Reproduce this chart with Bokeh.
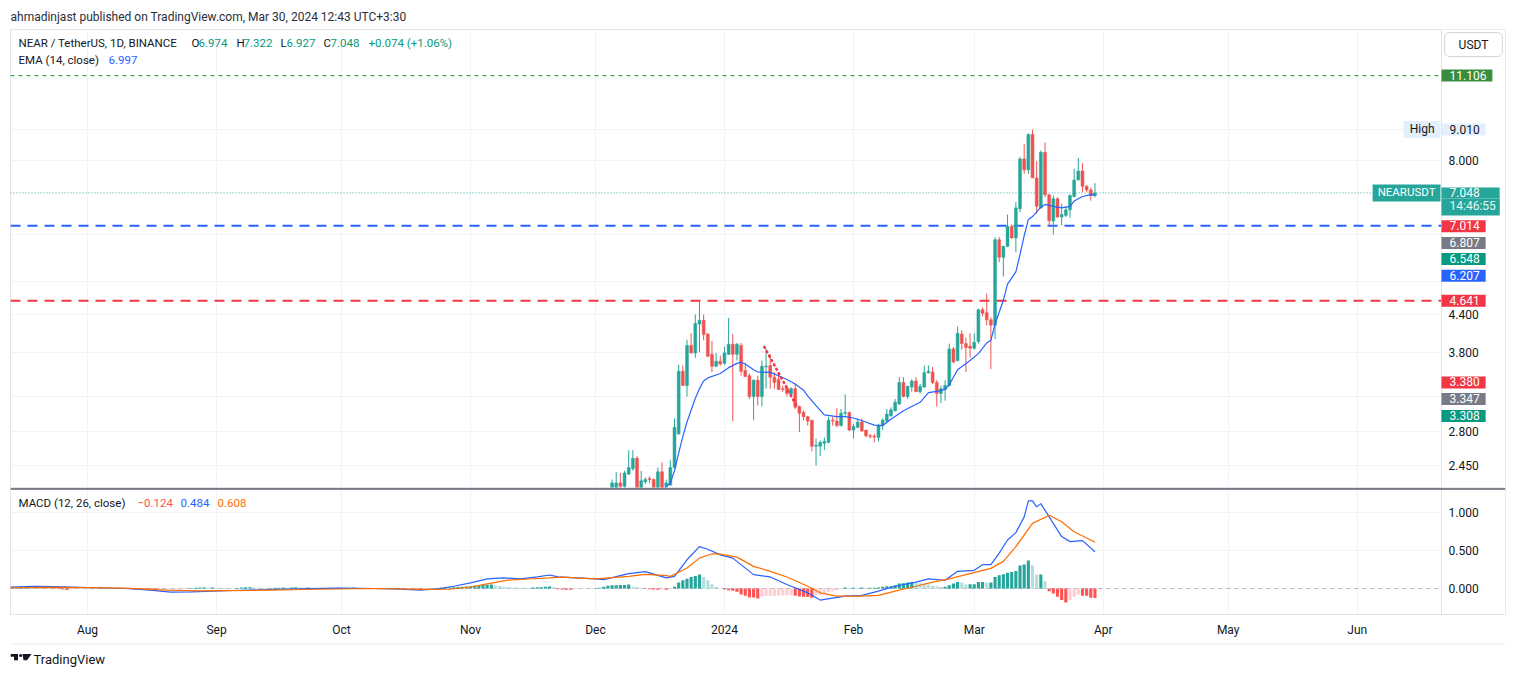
import pandas as pd
from bokeh.plotting import figure
from bokeh.models import (Range1d, FixedTicker, PrintfTickFormatter, Span, Label, Grid, BoxAnnotation,
                          CustomJSTickFormatter, ColumnDataSource)
from bokeh.core.properties import value
from bokeh.layouts import column
from bokeh.embed import file_html
from bokeh.resources import INLINE

# ---------------- data ----------------
header_text = "ahmadinjast published on TradingView.com, Mar 30, 2024 12:43 UTC+3:30"

candle_first_day = "2023-12-05"
# Dec 5..31 | Jan | Feb | Mar 1..30
candle_open = [2.22, 2.24, 2.29, 2.26, 2.37, 2.42, 2.52, 2.20, 2.30, 2.33, 2.32, 2.22, 2.39, 2.26, 2.27, 2.43, 2.77, 3.53, 3.34, 3.90, 3.79, 4.24, 4.30, 4.08, 3.77, 3.60, 3.67,
               3.64, 3.77, 3.92, 3.77, 3.90, 3.54, 3.47, 3.20, 3.41, 3.20, 3.59, 3.61, 3.45, 3.42, 3.30, 3.31, 3.23, 3.30, 3.08, 3.01, 2.96, 2.92, 2.64, 2.64, 2.67, 2.68, 2.92, 2.91, 2.86, 3.00, 3.01,
               2.81, 2.84, 2.90, 2.81, 2.75, 2.745, 2.73, 2.86, 2.91, 2.97, 3.03, 3.11, 3.38, 3.20, 3.32, 3.40, 3.26, 3.32, 3.51, 3.52, 3.38, 3.24, 3.29, 3.34, 3.85, 3.68, 4.08, 3.93, 3.89,
               3.86, 3.96, 4.48, 4.43, 4.31, 4.22, 5.88, 5.49, 5.73, 6.19, 5.92, 6.63, 8.04, 7.71, 8.84, 7.47, 6.65, 8.25, 7.00, 6.32, 6.89, 6.42, 6.46, 6.60, 6.95, 7.41, 7.67, 7.23, 7.13, 6.974]
candle_high = [2.32, 2.39, 2.38, 2.40, 2.60, 2.60, 2.54, 2.40, 2.34, 2.35, 2.33, 2.43, 2.48, 2.32, 2.50, 2.94, 3.62, 3.61, 3.99, 4.09, 4.40, 4.62, 4.40, 4.09, 3.97, 3.79, 3.75,
               3.88, 4.34, 4.08, 3.94, 3.94, 3.65, 3.50, 3.42, 3.47, 3.68, 3.85, 3.77, 3.52, 3.52, 3.34, 3.35, 3.32, 3.36, 3.09, 3.03, 2.97, 2.92, 2.72, 2.70, 2.73, 2.96, 2.96, 3.06, 3.05, 3.23, 3.02,
               2.88, 2.94, 2.94, 2.81, 2.77, 2.77, 2.88, 2.94, 3.05, 3.07, 3.17, 3.45, 3.45, 3.34, 3.42, 3.45, 3.36, 3.61, 3.61, 3.59, 3.41, 3.34, 3.41, 3.93, 3.88, 4.20, 4.14, 4.02, 4.09,
               4.09, 4.50, 4.52, 4.77, 4.35, 5.94, 5.94, 5.74, 6.48, 6.24, 6.80, 8.10, 8.52, 8.88, 9.01, 7.97, 8.31, 8.57, 7.02, 6.98, 6.93, 6.76, 6.69, 7.00, 7.74, 8.07, 7.91, 7.27, 7.19, 7.322]
candle_low = [2.18, 2.18, 2.20, 2.22, 2.36, 2.40, 2.15, 2.15, 2.28, 2.29, 2.18, 2.18, 2.19, 2.24, 2.27, 2.42, 2.76, 3.34, 3.20, 3.78, 3.72, 3.80, 3.98, 3.73, 3.52, 3.59, 3.61,
              3.62, 3.76, 2.91, 3.68, 3.47, 3.45, 3.17, 2.92, 3.09, 3.08, 3.30, 3.30, 3.30, 3.28, 3.26, 3.20, 3.21, 3.05, 2.79, 2.92, 2.86, 2.59, 2.45, 2.54, 2.60, 2.67, 2.86, 2.84, 2.85, 2.97, 2.80,
              2.72, 2.83, 2.79, 2.73, 2.72, 2.68, 2.69, 2.81, 2.90, 2.96, 3.02, 3.10, 3.19, 3.17, 3.26, 3.26, 3.24, 3.31, 3.50, 3.36, 3.08, 3.12, 3.15, 3.33, 3.64, 3.67, 3.84, 3.52, 3.72,
              3.84, 3.93, 4.37, 4.22, 3.56, 4.00, 5.39, 5.10, 5.71, 5.90, 5.60, 6.54, 7.59, 7.59, 7.47, 6.50, 6.63, 6.93, 6.19, 6.00, 6.40, 6.21, 6.42, 6.40, 6.93, 7.40, 7.07, 7.07, 6.84, 6.927]
candle_close = [2.29, 2.29, 2.26, 2.38, 2.43, 2.52, 2.20, 2.31, 2.32, 2.32, 2.22, 2.39, 2.22, 2.29, 2.43, 2.84, 3.53, 3.34, 3.90, 3.79, 4.25, 4.30, 4.07, 3.74, 3.60, 3.67, 3.63,
                3.79, 3.92, 3.77, 3.92, 3.53, 3.46, 3.20, 3.41, 3.20, 3.60, 3.60, 3.45, 3.38, 3.29, 3.29, 3.24, 3.30, 3.07, 3.00, 2.96, 2.91, 2.64, 2.65, 2.68, 2.69, 2.92, 2.91, 2.86, 3.00, 3.01, 2.81,
                2.85, 2.90, 2.80, 2.75, 2.74, 2.735, 2.86, 2.92, 2.99, 3.04, 3.13, 3.38, 3.20, 3.33, 3.40, 3.26, 3.33, 3.51, 3.53, 3.38, 3.24, 3.30, 3.34, 3.85, 3.66, 4.09, 3.93, 3.87, 3.86,
                3.95, 4.48, 4.42, 4.31, 4.22, 5.88, 5.49, 5.73, 6.19, 5.92, 6.65, 8.04, 7.71, 8.84, 7.47, 6.69, 8.25, 7.00, 6.33, 6.89, 6.42, 6.48, 6.60, 6.98, 7.41, 7.67, 7.23, 7.13, 6.974, 7.048]

ema_dates = ["2023-12-17", "2023-12-19", "2023-12-20", "2023-12-21", "2023-12-22", "2023-12-23", "2023-12-25", "2023-12-26", "2023-12-27", "2023-12-28",
             "2023-12-31", "2024-01-02", "2024-01-04", "2024-01-05", "2024-01-06", "2024-01-08", "2024-01-09", "2024-01-12", "2024-01-14", "2024-01-16",
             "2024-01-18", "2024-01-20", "2024-01-21", "2024-01-23", "2024-01-25", "2024-01-28", "2024-01-30", "2024-02-01", "2024-02-04", "2024-02-06",
             "2024-02-08", "2024-02-10", "2024-02-13", "2024-02-17", "2024-02-19", "2024-02-21", "2024-02-23", "2024-02-24", "2024-02-26", "2024-02-29",
             "2024-03-02", "2024-03-04", "2024-03-05", "2024-03-06", "2024-03-08", "2024-03-09", "2024-03-11", "2024-03-12", "2024-03-13", "2024-03-14",
             "2024-03-15", "2024-03-17", "2024-03-18", "2024-03-20", "2024-03-22", "2024-03-24", "2024-03-25", "2024-03-27", "2024-03-29", "2024-03-30"]
ema_values = [2.22, 2.29, 2.40, 2.57, 2.74, 2.90, 3.18, 3.30, 3.40, 3.44,
              3.50, 3.58, 3.64, 3.655, 3.63, 3.55, 3.52, 3.515, 3.47, 3.42,
              3.36, 3.28, 3.21, 3.09, 2.98, 2.96, 2.96, 2.945, 2.90, 2.865,
              2.86, 2.93, 3.03, 3.13, 3.25, 3.265, 3.29, 3.35, 3.55, 3.68,
              3.78, 3.94, 3.98, 4.24, 4.65, 4.95, 5.19, 5.55, 5.97, 6.36,
              6.43, 6.67, 6.74, 6.69, 6.65, 6.69, 6.83, 6.95, 7.00, 6.997]

proj_dates = ["2024-01-10 14:00", "2024-01-18 07:00"]
proj_values = [3.88, 3.09]

macd_dates = ["2023-07-13", "2023-07-19", "2023-07-24", "2023-08-01", "2023-08-10", "2023-08-16", "2023-08-21", "2023-08-26", "2023-09-05", "2023-09-18",
              "2023-09-30", "2023-10-09", "2023-10-15", "2023-10-20", "2023-10-24", "2023-10-28", "2023-11-01", "2023-11-05", "2023-11-09", "2023-11-13",
              "2023-11-17", "2023-11-20", "2023-11-22", "2023-12-01", "2023-12-03", "2023-12-09", "2023-12-13", "2023-12-18", "2023-12-20", "2023-12-23",
              "2023-12-26", "2023-12-28", "2023-12-31", "2024-01-03", "2024-01-08", "2024-01-12", "2024-01-16", "2024-01-21", "2024-01-24", "2024-01-30",
              "2024-02-03", "2024-02-07", "2024-02-11", "2024-02-16", "2024-02-19", "2024-02-23", "2024-02-26", "2024-03-01", "2024-03-03", "2024-03-05",
              "2024-03-07", "2024-03-09", "2024-03-11", "2024-03-13", "2024-03-14", "2024-03-15", "2024-03-16", "2024-03-17", "2024-03-19", "2024-03-22",
              "2024-03-24", "2024-03-27", "2024-03-30"]
macd_values = [0.017, 0.030, 0.026, 0.013, 0.0, -0.020, -0.048, -0.043, -0.026, -0.009,
               0.004, 0.0, -0.009, -0.020, -0.005, 0.030, 0.074, 0.126, 0.139, 0.126,
               0.152, 0.178, 0.152, 0.126, 0.117, 0.196, 0.222, 0.139, 0.16, 0.378,
               0.552, 0.517, 0.443, 0.40, 0.183, 0.152, 0.052, -0.057, -0.152, -0.10,
               -0.091, -0.035, 0.03, 0.083, 0.126, 0.109, 0.226, 0.239, 0.313, 0.313,
               0.465, 0.639, 0.735, 0.943, 1.152, 1.152, 1.074, 1.117, 0.943, 0.683,
               0.617, 0.630, 0.484]

signal_dates = ["2023-07-13", "2023-07-22", "2023-08-01", "2023-08-10", "2023-08-20", "2023-08-28", "2023-09-10", "2023-09-25", "2023-10-09", "2023-10-20",
                "2023-10-27", "2023-11-01", "2023-11-05", "2023-11-10", "2023-11-15", "2023-11-20", "2023-11-23", "2023-12-01", "2023-12-09", "2023-12-13",
                "2023-12-18", "2023-12-19", "2023-12-23", "2023-12-26", "2023-12-29", "2023-12-31", "2024-01-04", "2024-01-08", "2024-01-12", "2024-01-16",
                "2024-01-21", "2024-01-24", "2024-01-28", "2024-02-03", "2024-02-07", "2024-02-11", "2024-02-16", "2024-02-20", "2024-02-24", "2024-02-28",
                "2024-03-05", "2024-03-08", "2024-03-11", "2024-03-15", "2024-03-19", "2024-03-22", "2024-03-25", "2024-03-30"]
signal_values = [0.010, 0.015, 0.012, 0.005, -0.020, -0.030, -0.025, -0.010, 0.0, -0.012,
                 -0.010, 0.020, 0.060, 0.110, 0.125, 0.140, 0.150, 0.126, 0.160, 0.187,
                 0.170, 0.160, 0.270, 0.400, 0.457, 0.452, 0.413, 0.291, 0.226, 0.152,
                 0.030, -0.057, -0.100, -0.100, -0.091, -0.035, 0.030, 0.083, 0.126, 0.183,
                 0.265, 0.357, 0.552, 0.857, 0.965, 0.878, 0.748, 0.608]

hist_first_day = "2023-07-14"
hist_jul = [0.008, 0.010, 0.012, 0.012, 0.010, 0.008, 0.006, 0.005, 0.004, 0.003, -0.004, -0.008, -0.014, -0.020, -0.012, -0.006, -0.003, -0.002]
hist_aug = [0.002, 0.003, 0.002, 0.001, 0.002, 0.001, 0.002, 0.001, -0.001, -0.002, -0.003, -0.002, -0.004, -0.006, -0.008, -0.010,
            -0.012, -0.011, -0.010, -0.009, -0.008, -0.006, -0.005, -0.003, -0.001, 0.006, 0.010, 0.013, 0.013, 0.012, 0.014]
hist_sep = [0.011, 0.009, 0.007, 0.005, 0.004, 0.008, 0.012, 0.015, 0.016, 0.014, 0.010, 0.006, 0.004, 0.006, 0.009,
            0.011, 0.013, 0.012, 0.014, 0.015, 0.013, 0.012, 0.014, 0.013, 0.009, 0.006, 0.004, 0.003, 0.006, 0.009]
hist_oct = [0.010, 0.011, 0.010, 0.012, 0.010, 0.007, 0.005, 0.004, 0.003, 0.002, 0.001, 0.000, -0.003, -0.005, -0.007, -0.008,
            -0.006, -0.009, -0.010, -0.011, -0.009, -0.006, 0.003, 0.006, 0.009, 0.011, 0.014, 0.017, 0.020, 0.023, 0.026]
hist_nov = [0.030, 0.036, 0.041, 0.045, 0.050, 0.052, 0.040, 0.032, 0.024, 0.018, 0.014, 0.012, 0.010, 0.009, 0.008,
            0.012, 0.015, 0.018, 0.022, 0.025, 0.020, -0.010, -0.012, -0.015, -0.015, -0.010, -0.008, -0.005, -0.004, -0.003]
hist_dec = [0.002, 0.009, 0.022, 0.035, 0.043, 0.044, 0.045, 0.046, 0.052, 0.022, 0.017, 0.009, -0.004, -0.009, -0.013, -0.017,
            -0.013, -0.015, -0.005, 0.022, 0.078, 0.109, 0.130, 0.152, 0.165, 0.183, 0.152, 0.109, 0.057, 0.022, 0.005]
hist_jan = [-0.013, -0.022, -0.030, -0.043, -0.078, -0.096, -0.117, -0.117, -0.130, -0.105, -0.100, -0.098, -0.096, -0.094, -0.092, -0.090,
            -0.088, -0.095, -0.104, -0.109, -0.113, -0.122, -0.096, -0.087, -0.065, -0.048, -0.035, -0.022, -0.013, 0.013, 0.009]
hist_feb = [0.009, 0.004, 0.013, 0.009, 0.009, 0.009, 0.013, 0.022, 0.030, 0.030, 0.043, 0.065, 0.070, 0.078, 0.087,
            0.078, 0.070, 0.065, 0.052, 0.035, 0.030, 0.022, 0.022, 0.043, 0.065, 0.087, 0.078, 0.052, 0.057]
hist_mar = [0.057, 0.087, 0.087, 0.078, 0.078, 0.152, 0.174, 0.187, 0.209, 0.217, 0.230, 0.304, 0.317, 0.370, 0.304,
            0.183, 0.183, 0.096, -0.035, -0.065, -0.109, -0.152, -0.183, -0.152, -0.109, -0.078, -0.096, -0.096, -0.122, -0.124]

level_green = 11.106
level_blue = 6.207
level_red = 4.641
last_close = 7.048

price_ticks = [2.45, 2.8, 3.8, 4.4, 8.0]
price_hidden_grid = [3.2, 5.0, 6.0, 9.0, 11.0]
macd_ticks = [0.0, 0.5, 1.0]
month_starts = ["2023-08-01", "2023-09-01", "2023-10-01", "2023-11-01", "2023-12-01", "2024-01-01",
                "2024-02-01", "2024-03-01", "2024-04-01", "2024-05-01", "2024-06-01"]

# price-axis tags: value, text, background, text colour, pushed down (px) to avoid overlap
axis_tags = [
    (11.106, "11.106", "#388E3C", "#FFFFFF", 0),
    (9.010, "9.010", "#E3EFFD", "#131722", 0),
    (7.014, "7.014", "#F23645", "#FFFFFF", 32),
    (6.807, "6.807", "#787B86", "#FFFFFF", 41),
    (6.548, "6.548", "#089981", "#FFFFFF", 47),
    (6.207, "6.207", "#2962FF", "#FFFFFF", 50),
    (4.641, "4.641", "#F23645", "#FFFFFF", 0),
    (3.380, "3.380", "#F23645", "#FFFFFF", 0),
    (3.347, "3.347", "#787B86", "#FFFFFF", 14),
    (3.308, "3.308", "#089981", "#FFFFFF", 28),
]

# ---------------- layout / styling ----------------
FONT = "Roboto"
TXT = "#131722"
GRID = "#F0F3FA"
BORDER = "#E0E3EB"
UP = "#26A69A"
DOWN = "#EF5350"
DAY = 86400000

CANVAS_W = 1507
LEFT = 10
FRAME_W = 1495          # plot area + price-scale column
SCALE_W = 64            # width of the price-scale column
PX_PER_DAY = 4.163

x0 = pd.Timestamp("2023-07-13 12:00")
x0_ms = x0.value / 1e6
xb_ms = x0_ms + (FRAME_W - SCALE_W) / PX_PER_DAY * DAY     # boundary of the price scale
xe_ms = x0_ms + FRAME_W / PX_PER_DAY * DAY
xr = Range1d(start=x0_ms, end=xe_ms)
month_ms = [pd.Timestamp(d).value / 1e6 for d in month_starts]

P_LO, P_HI = 2.2495, 13.28
M_LO, M_HI = -0.342, 1.316


def style_scale(ax, ticks):
    ax.ticker = FixedTicker(ticks=ticks)
    ax.formatter = PrintfTickFormatter(format="%.3f")
    ax.fixed_location = xb_ms
    ax.major_tick_line_color = None
    ax.minor_tick_line_color = None
    ax.major_tick_out = 0
    ax.major_tick_in = 0
    ax.major_label_standoff = 7
    ax.axis_line_color = BORDER
    ax.major_label_text_font = FONT
    ax.major_label_text_font_size = "12px"
    ax.major_label_text_color = TXT


# ---------------- price pane ----------------
p = figure(width=CANVAS_W, height=488, x_range=xr, y_range=Range1d(P_LO, P_HI), y_axis_type="log",
           x_axis_location=None, y_axis_location="right", output_backend="svg", toolbar_location=None,
           min_border_left=LEFT, min_border_right=2, min_border_top=29, min_border_bottom=1,
           title=header_text)
p.title.align = "left"
p.title.vertical_align = "middle"
p.title.text_font = FONT
p.title.text_font_size = "12px"
p.title.text_font_style = "normal"
p.title.text_color = "#2A2E39"
p.title.standoff = 10
p.outline_line_color = BORDER
p.background_fill_color = "white"
p.border_fill_color = "white"
p.xgrid.grid_line_color = None
p.ygrid.grid_line_color = GRID
p.ygrid.ticker = FixedTicker(ticks=price_ticks)
p.add_layout(Grid(dimension=0, ticker=FixedTicker(ticks=month_ms), grid_line_color=GRID))
p.add_layout(Grid(dimension=1, ticker=FixedTicker(ticks=price_hidden_grid), grid_line_color=GRID))
p.add_layout(BoxAnnotation(left=xb_ms, fill_color="white", fill_alpha=1, line_color=None, level="underlay"))
style_scale(p.yaxis[0], price_ticks)

# horizontal levels (end at the price scale)
p.line([x0_ms, xb_ms], [level_green, level_green], line_color="#43A047", line_width=1.2, line_dash="4 4")
p.line([x0_ms, xb_ms], [level_blue, level_blue], line_color="#2962FF", line_width=2, line_dash="10 7")
p.line([x0_ms, xb_ms], [level_red, level_red], line_color="#F23645", line_width=2, line_dash="10 7")
p.line([x0_ms, xb_ms], [last_close, last_close], line_color=UP, line_width=1, line_dash="1 2")

# candles
cdates = pd.date_range(candle_first_day, periods=len(candle_open), freq="D")
csrc = ColumnDataSource(dict(
    x=cdates, o=candle_open, h=candle_high, l=candle_low, c=candle_close,
    top=[max(a, b) for a, b in zip(candle_open, candle_close)],
    bot=[min(a, b) for a, b in zip(candle_open, candle_close)],
    col=[UP if c >= o else DOWN for o, c in zip(candle_open, candle_close)],
))
p.segment(x0="x", y0="l", x1="x", y1="h", color="col", line_width=1, source=csrc)
p.vbar(x="x", width=0.7 * DAY, top="top", bottom="bot", fill_color="col", line_color="col", line_width=0.5, source=csrc)

# EMA
p.line(pd.to_datetime(ema_dates), ema_values, line_color="#2962FF", line_width=1.2)
# small dotted drawing
p.line(pd.to_datetime(proj_dates), proj_values, line_color="#F23645", line_width=2.6, line_dash="1 4", line_cap="round")


def tag(fig, yv, text, bg, fg, push=0, x_off=0, align="left", pad=(8, 6, 1, 2), size="12px",
        border=None, radius=0):
    fig.add_layout(Label(
        x=xb_ms, y=yv, x_offset=x_off, y_offset=-push,
        text=text, text_font=FONT, text_font_size=size, text_color=fg,
        text_align=align, text_baseline="middle",
        background_fill_color=bg, border_line_color=border, border_radius=radius,
        padding=dict(left=pad[0], right=pad[1], top=pad[2], bottom=pad[3])))


for v, t, bg, fg, push in axis_tags:
    tag(p, v, t, bg, fg, push)

tag(p, 9.010, "High", "#E3EFFD", TXT, 0, x_off=-1, align="right", pad=(6, 6, 1, 2))
tag(p, last_close, "NEARUSDT", UP, "#FFFFFF", 0, x_off=-1, align="right", pad=(5, 5, 1, 2), size="11.5px")
tag(p, last_close, "7.048", UP, "#FFFFFF", 0, pad=(8, 20, 1, 1))
tag(p, last_close, "14:46:55", UP, "#E6F5F3", 14, pad=(8, 4, 1, 2))
tag(p, P_HI, "USDT", "#FFFFFF", TXT, 15, x_off=32, align="center", pad=(14, 14, 5, 5), border="#D1D4DC", radius=5)

# legend lines inside the pane
legend_rows = [
    ("NEAR / TetherUS, 1D, BINANCE", 8, TXT, 13),
    ("O", 181, TXT, 13), ("6.974", 188, "#089981", 13),
    ("H", 226, TXT, 13), ("7.322", 233, "#089981", 13),
    ("L", 270, TXT, 13), ("6.927", 276, "#089981", 13),
    ("C", 313, TXT, 13), ("7.048", 320, "#089981", 13),
    ("+0.074 (+1.06%)", 358, "#089981", 13),
    ("EMA (14, close)", 8, TXT, 30), ("6.997", 98, "#2962FF", 30),
]
for t, xo, col, yo in legend_rows:
    p.add_layout(Label(x=x0_ms, y=P_HI, x_offset=xo, y_offset=-yo, text=t, text_font=FONT,
                       text_font_size="11.5px", text_color=col, text_baseline="middle", text_align="left"))

# ---------------- MACD pane ----------------
m = figure(width=CANVAS_W, height=155, x_range=xr, y_range=Range1d(M_LO, M_HI), x_axis_type="datetime",
           y_axis_location="right", output_backend="svg", toolbar_location=None,
           min_border_left=LEFT, min_border_right=2, min_border_top=0, min_border_bottom=29)
m.outline_line_color = BORDER
m.background_fill_color = "white"
m.border_fill_color = "white"
m.xgrid.ticker = FixedTicker(ticks=month_ms)
m.xgrid.grid_line_color = GRID
m.ygrid.ticker = FixedTicker(ticks=macd_ticks)
m.ygrid.grid_line_color = GRID
m.add_layout(BoxAnnotation(left=xb_ms, fill_color="white", fill_alpha=1, line_color=None, level="underlay"))

xa = m.xaxis[0]
xa.ticker = FixedTicker(ticks=month_ms)
xa.formatter = CustomJSTickFormatter(code="""
const d = new Date(tick);
const names = ['Jan','Feb','Mar','Apr','May','Jun','Jul','Aug','Sep','Oct','Nov','Dec'];
return d.getUTCMonth() == 0 ? String(d.getUTCFullYear()) : names[d.getUTCMonth()];
""")
xa.major_tick_line_color = None
xa.minor_tick_line_color = None
xa.major_tick_out = 0
xa.major_tick_in = 0
xa.major_label_standoff = 8
xa.axis_line_color = BORDER
xa.major_label_text_font = FONT
xa.major_label_text_font_size = "12px"
xa.major_label_text_color = TXT
style_scale(m.yaxis[0], macd_ticks)

m.line([x0_ms, xb_ms], [0, 0], line_color="#B2B5BE", line_width=1, line_dash="4 4")

hist = hist_jul + hist_aug + hist_sep + hist_oct + hist_nov + hist_dec + hist_jan + hist_feb + hist_mar
hdates = pd.date_range(hist_first_day, periods=len(hist), freq="D")
hcol = []
prev = 0.0
for v in hist:
    if v >= 0:
        hcol.append("#26A69A" if v >= prev else "#B2DFDB")
    else:
        hcol.append("#FFCDD2" if v > prev else "#FF5252")
    prev = v
m.vbar(x=hdates, top=hist, bottom=0, width=0.75 * DAY, fill_color=hcol, line_color=None)
m.line(pd.to_datetime(macd_dates), macd_values, line_color="#2962FF", line_width=1.2)
m.line(pd.to_datetime(signal_dates), signal_values, line_color="#FF6D00", line_width=1.2)
m.add_layout(Span(location=M_HI, dimension="width", line_color="#131722", line_width=2))

macd_legend = [("MACD (12, 26, close)", 8, TXT), ("\u22120.124", 127, "#FF5252"),
               ("0.484", 170, "#2962FF"), ("0.608", 207, "#FF6D00")]
for t, xo, col in macd_legend:
    m.add_layout(Label(x=x0_ms, y=M_HI, x_offset=xo, y_offset=-14, text=t, text_font=FONT,
                       text_font_size="11.5px", text_color=col, text_baseline="middle", text_align="left"))

# ---------------- footer (chart box bottom edge + logo) ----------------
f = figure(width=CANVAS_W, height=30, x_range=Range1d(LEFT, CANVAS_W - 2), y_range=Range1d(0, 30),
           x_axis_location=None, y_axis_location=None, output_backend="svg", toolbar_location=None,
           min_border_left=0, min_border_right=0, min_border_top=0, min_border_bottom=0)
f.outline_line_color = None
f.xgrid.grid_line_color = None
f.ygrid.grid_line_color = None
f.line([LEFT, CANVAS_W - 2], [29.5, 29.5], line_color=BORDER, line_width=1)
f.quad(left=[10, 13.5], right=[17.5, 17.5], top=[19.5, 19.5], bottom=[16.8, 13.2], color="#131722", line_color=None)
f.scatter([20.2], [18.0], size=3.2, color="#131722", line_color=None)
f.patch([22, 31, 26.5, 23], [19.5, 19.5, 13.2, 13.2], color="#131722", line_color=None)
f.text([33], [14.5], text=["TradingView"], text_font=value(FONT), text_font_size="13px",
       text_color="#131722", text_baseline="middle", text_align="left")

layout = column(p, m, f)
open("out.html", "w").write(file_html(layout, INLINE))
